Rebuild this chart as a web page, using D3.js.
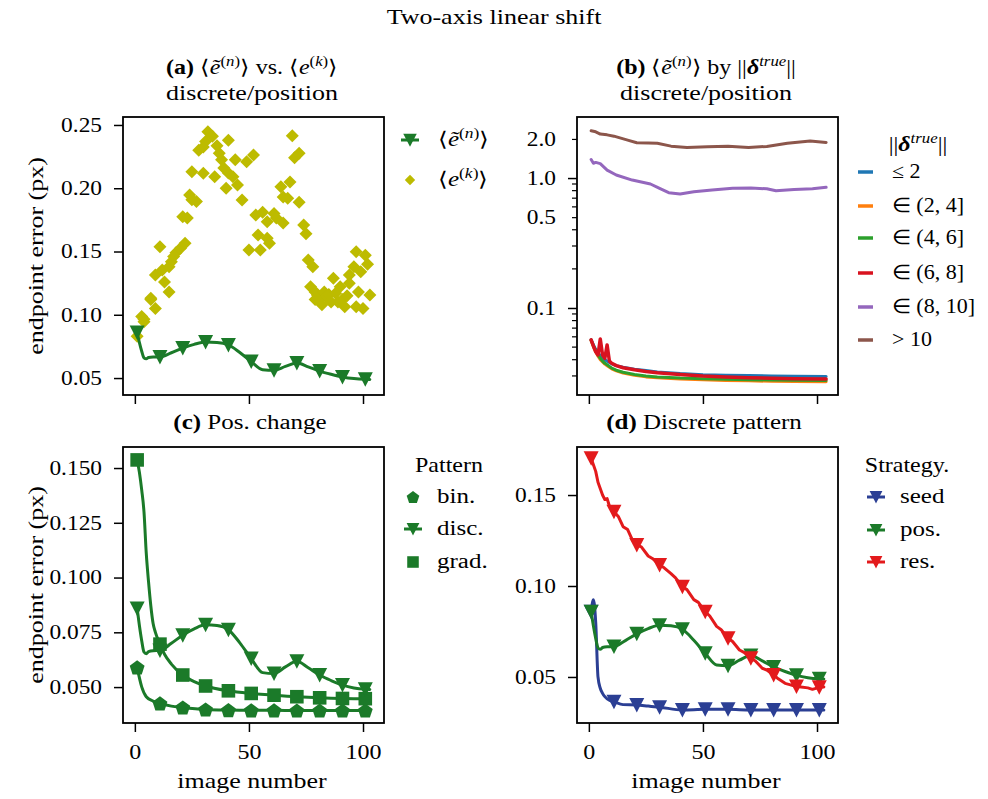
<!DOCTYPE html>
<html>
<head>
<meta charset="utf-8">
<title>Two-axis linear shift</title>
<script src="https://d3js.org/d3.v7.min.js"></script>
<style>
  body { margin: 0; background: #fff; }
  svg text { font-family: "Liberation Serif", serif; fill: #000; }
</style>
</head>
<body>
<div id="chart"></div>
<script>
// ---------- data ----------
const xTicks = [0, 50, 100];
const markerX = [1, 11, 21, 31, 41, 51, 61, 71, 81, 91, 101];

// (a) per-image error <e^(k)> (scatter)
const ekX = [1, 3, 4, 4, 7, 7, 9, 9, 11, 12, 13, 15, 15, 16, 17, 18, 20, 21, 22, 23, 24, 25, 25, 27, 28, 30,
  30, 31, 32, 34, 35, 36, 37, 38, 39, 40, 41, 41, 43, 44, 45, 47, 49, 50, 52, 53, 54, 55, 56, 58, 58, 59,
  61, 62, 64, 65, 65, 67, 68, 69, 70, 72, 72, 74, 75, 76, 77, 78, 79, 79, 80, 81, 82, 83, 84, 85, 86, 87,
  88, 89, 90, 91, 92, 93, 94, 94, 96, 97, 97, 98, 99, 100, 101, 102, 103];
const ekY = [0.083, 0.0987, 0.0965, 0.0945, 0.113, 0.112, 0.105, 0.1314, 0.1538, 0.1354, 0.126, 0.118, 0.138,
  0.142, 0.146, 0.149, 0.1525, 0.1775, 0.1565, 0.1765, 0.1947, 0.191, 0.213, 0.1895, 0.230, 0.2118,
  0.2325, 0.237, 0.2447, 0.241, 0.209, 0.2335, 0.2276, 0.2225, 0.216, 0.200, 0.238, 0.212, 0.209, 0.2225,
  0.2026, 0.1907, 0.221, 0.1512, 0.2263, 0.1789, 0.163, 0.1512, 0.181, 0.1736, 0.1605, 0.1565,
  0.180, 0.1765, 0.2012, 0.1725, 0.193, 0.192, 0.205, 0.2415, 0.224, 0.189, 0.2276, 0.171, 0.164, 0.1433,
  0.1222, 0.138, 0.118, 0.112, 0.1157, 0.112, 0.108, 0.118, 0.1143, 0.116, 0.110, 0.1288,
  0.117, 0.110, 0.1222, 0.112, 0.1064, 0.115, 0.1314, 0.125, 0.138, 0.1499, 0.1064, 0.118, 0.134, 0.105,
  0.147, 0.140, 0.1157];

// discrete pattern / position strategy mean error (panels a, c, d)
const discX = [1, 2, 3, 4, 5, 6, 8, 11, 16, 21, 26, 31, 36, 41, 46, 51, 56, 61, 66, 71, 76, 81, 86, 91, 96, 101, 103];
const discY = [0.0859, 0.078, 0.0712, 0.066, 0.0652, 0.0662, 0.0666, 0.0667, 0.0700, 0.0737, 0.0766, 0.0784,
  0.0781, 0.0762, 0.0702, 0.0630, 0.0566, 0.0562, 0.0592, 0.0618, 0.0588, 0.0555, 0.0530, 0.0509, 0.0496, 0.0490, 0.0489];

// (c) binary and gradient patterns
const binX = [1, 3, 5, 8, 11, 16, 21, 31, 41, 51, 61, 71, 81, 91, 101, 103];
const binY = [0.059, 0.0501, 0.0456, 0.0436, 0.0426, 0.0413, 0.0407, 0.0398, 0.0395, 0.0394, 0.0394, 0.0393,
  0.0393, 0.0393, 0.0393, 0.0393];
const gradX = [1, 2, 3, 4, 5, 6, 7, 8, 9, 11, 13, 16, 21, 26, 31, 41, 51, 61, 71, 81, 91, 101, 103];
const gradY = [0.1537, 0.148, 0.140, 0.130, 0.111, 0.098, 0.087, 0.079, 0.075, 0.0696, 0.065, 0.0605, 0.0555,
  0.0525, 0.0505, 0.0483, 0.0471, 0.0463, 0.0456, 0.0451, 0.0448, 0.0447, 0.0447];

// (d) seed and residual strategies
const seedX = [1, 2, 3, 4, 5, 6, 7, 9, 11, 15, 21, 26, 31, 41, 51, 61, 71, 81, 91, 101, 103];
const seedY = [0.0859, 0.0925, 0.080, 0.050, 0.0438, 0.041, 0.0392, 0.0372, 0.0364, 0.0348, 0.0346, 0.034,
  0.0334, 0.0319, 0.0322, 0.0322, 0.0319, 0.0319, 0.0319, 0.0319, 0.0319];
const resX = [1, 3, 4, 6, 7, 8, 9, 11, 13, 15, 17, 19, 21, 23, 26, 28, 31, 33, 36, 38, 41, 43, 46, 48, 51, 53,
  56, 58, 61, 63, 66, 68, 71, 73, 76, 78, 81, 83, 86, 88, 91, 93, 96, 98, 101, 103];
const resY = [0.1702, 0.163, 0.157, 0.150, 0.1475, 0.148, 0.144, 0.1408, 0.138, 0.1326, 0.131, 0.1255, 0.1225,
  0.1215, 0.1165, 0.1150, 0.1115, 0.1100, 0.1068, 0.1045, 0.0996, 0.0980, 0.0925, 0.0910, 0.0859, 0.0835,
  0.0778, 0.0760, 0.0713, 0.0695, 0.0648, 0.0635, 0.0603, 0.0588, 0.0548, 0.0538, 0.0511, 0.0490, 0.0465,
  0.0458, 0.0447, 0.0445, 0.0440, 0.0432, 0.0443, 0.0445];

// (b) error by true displacement magnitude (log scale)
const deltaLabels = ["≤ 2", "∈ (2, 4]", "∈ (4, 6]", "∈ (6, 8]", "∈ (8, 10]", "> 10"];
const lowX = [1, 2, 3, 4, 5, 6, 7, 8, 9, 10, 12, 15, 20, 25, 30, 40, 50, 60, 70, 80, 90, 104];
const bBlue = [0.0568, 0.052, 0.048, 0.045, 0.043, 0.0415, 0.040, 0.039, 0.038, 0.0372, 0.036, 0.035, 0.0338,
  0.033, 0.0322, 0.0313, 0.0307, 0.0304, 0.0302, 0.030, 0.0298, 0.0297];
const bOrange = [0.056, 0.050, 0.046, 0.0425, 0.040, 0.0385, 0.037, 0.036, 0.035, 0.034, 0.0328, 0.0316, 0.0303,
  0.0295, 0.029, 0.0284, 0.028, 0.0277, 0.0275, 0.0273, 0.0272, 0.0271];
const bGreen = [0.0565, 0.051, 0.047, 0.0435, 0.041, 0.039, 0.0375, 0.0365, 0.0355, 0.0345, 0.0332, 0.032,
  0.0308, 0.030, 0.0295, 0.0289, 0.0286, 0.0283, 0.0281, 0.0279, 0.0278, 0.0277];
const bRed = [0.0568, 0.051, 0.046, 0.0435, 0.0577, 0.0435, 0.041, 0.052, 0.039, 0.0376, 0.036, 0.0347, 0.0335,
  0.0325, 0.0318, 0.0308, 0.030, 0.0295, 0.0291, 0.0288, 0.0286, 0.0284];
const purpleX = [1, 2, 3, 5, 8, 12, 19, 27, 31, 35, 40, 46, 54, 63, 71, 78, 82, 90, 98, 104];
const bPurple = [1.39, 1.30, 1.32, 1.29, 1.15, 1.055, 0.965, 0.90, 0.833, 0.771, 0.753, 0.785, 0.809, 0.833,
  0.84, 0.826, 0.798, 0.815, 0.826, 0.848];
const brownX = [1, 3, 5, 8, 11, 17, 21, 26, 30, 36, 43, 52, 61, 70, 78, 87, 97, 104];
const bBrown = [2.31, 2.27, 2.18, 2.15, 2.10, 1.96, 1.87, 1.86, 1.85, 1.76, 1.72, 1.74, 1.76, 1.72, 1.75, 1.85,
  1.93, 1.88];

// ---------- drawing ----------
const W = 988, H = 799, FS = 20;
const green = "#1b7a29", yellow = "#bdbb00", blue = "#2b3f94", red = "#e31a1c";
const tab = ["#1f77b4", "#ff7f0e", "#2ca02c", "#d8121f", "#9467bd", "#8c564b"];

const svg = d3.select("#chart").append("svg")
  .attr("width", W).attr("height", H);

const colL = [123, 384], colR = [577, 838];
const rowT = [117, 395], rowB = [447, 723];

function xScale(col) {
  return d3.scaleLinear().domain([-5.2, 109.2]).range(col);
}

// the reference typeface (Computer Modern) runs wider than Times: stretch text horizontally about its anchor
function stretch(sel, sx) {
  sel.each(function () {
    const ax = +this.getAttribute("x") || 0, ay = +this.getAttribute("y") || 0;
    const t = this.getAttribute("transform") || "";
    this.setAttribute("transform", `${t} translate(${ax},${ay}) scale(${sx},1) translate(${-ax},${-ay})`);
  });
  return sel;
}

// marker shapes
const tri = "M-7.5,-7L7.5,-7L0,7.5Z";
const square = "M-6.8,-6.8H6.8V6.8H-6.8Z";
const diamond = "M0,-6.5L6.5,0L0,6.5L-6.5,0Z";
const pentagon = "M" + d3.range(5).map(k => {
  const a = -Math.PI / 2 + k * 2 * Math.PI / 5;
  return [7.8 * Math.cos(a), 7.8 * Math.sin(a) + 0.8].map(v => v.toFixed(2)).join(",");
}).join("L") + "Z";

// text with superscripts / italics
function mathText(sel, parts, size) {
  let off = 0;
  parts.forEach(p => {
    const target = p.sup ? -0.42 * size : 0;
    const ts = sel.append("tspan").text(p.t).attr("dy", target - off);
    off = target;
    if (p.sup) ts.attr("font-size", size * 0.7);
    if (p.it) ts.attr("font-style", "italic");
    if (p.b) ts.attr("font-weight", "bold");
  });
  return sel;
}

const eTilde = [{ t: "⟨" }, { t: "\u1EBD", it: true }, { t: "(", sup: true }, { t: "n", sup: true, it: true },
  { t: ")", sup: true }, { t: "⟩" }];
const eK = [{ t: "⟨" }, { t: "e", it: true }, { t: "(", sup: true }, { t: "k", sup: true, it: true },
  { t: ")", sup: true }, { t: "⟩" }];
const deltaTrue = [{ t: "||" }, { t: "δ", it: true, b: true }, { t: "true", sup: true, it: true }, { t: "||" }];

function label(x, y, anchor) {
  return svg.append("text").attr("x", x).attr("y", y).attr("text-anchor", anchor || "middle")
    .attr("font-size", FS);
}

function drawFrame(col, row, y, yTicks, yFmt, xLabels) {
  const x = xScale(col);
  const gx = svg.append("g")
    .attr("transform", `translate(0,${row[1]})`)
    .call(d3.axisBottom(x).tickValues(xTicks).tickSize(9).tickPadding(13)
      .tickFormat(xLabels ? d3.format("d") : () => ""));
  gx.attr("font-size", FS);
  gx.select(".domain").remove();
  gx.selectAll("line").attr("stroke-width", 1.5);

  const gy = svg.append("g")
    .attr("transform", `translate(${col[0]},0)`)
    .call(d3.axisLeft(y).tickValues(yTicks).tickSize(9).tickPadding(12).tickFormat(yFmt));
  gy.attr("font-size", FS);
  gy.select(".domain").remove();
  gy.selectAll("line").attr("stroke-width", 1.5);

  stretch(gx.selectAll("text"), 1.2);
  stretch(gy.selectAll("text"), 1.17);

  svg.append("rect")
    .attr("x", col[0]).attr("y", row[0])
    .attr("width", col[1] - col[0]).attr("height", row[1] - row[0])
    .attr("fill", "none").attr("stroke", "#000").attr("stroke-width", 1.8);
  return { x, gy };
}

function drawLine(x, y, xs, ys, color, curve, width) {
  svg.append("path")
    .datum(xs.map((v, i) => [v, ys[i]]))
    .attr("fill", "none").attr("stroke", color)
    .attr("stroke-width", width || 3)
    .attr("stroke-linejoin", "round").attr("stroke-linecap", "round")
    .attr("d", d3.line().x(d => x(d[0])).y(d => y(d[1])).curve(curve || d3.curveMonotoneX));
}

function drawMarkers(x, y, xs, ys, color, shape) {
  const pts = xs.map((v, i) => [v, ys[i]]).filter(d => markerX.includes(d[0]));
  svg.append("g").selectAll("path").data(pts).join("path")
    .attr("d", shape).attr("fill", color)
    .attr("transform", d => `translate(${x(d[0])},${y(d[1])})`);
}

function legendItem(cx, cy, tx, text, color, shape, withLine, scale) {
  if (withLine) {
    svg.append("line").attr("x1", cx - 9).attr("x2", cx + 9).attr("y1", cy).attr("y2", cy)
      .attr("stroke", color).attr("stroke-width", 3);
  }
  if (shape) {
    svg.append("path").attr("d", shape).attr("fill", color)
      .attr("transform", `translate(${cx},${cy}) scale(${scale || 0.85})`);
  }
  const t = label(tx, cy + 6, "start");
  if (typeof text === "string") t.text(text); else mathText(t, text, FS);
  stretch(t, 1.25);
}

// title
stretch(label(494, 24).text("Two-axis linear shift"), 1.3);

// ---- (a) ----
const yA = d3.scaleLinear().domain([0.0366, 0.2563]).range([rowT[1], rowT[0]]);
const xA = drawFrame(colL, rowT, yA, [0.05, 0.10, 0.15, 0.20, 0.25], d3.format(".2f"), false).x;
svg.append("g").selectAll("path").data(ekX.map((v, i) => [v, ekY[i]])).join("path")
  .attr("d", diamond).attr("fill", yellow)
  .attr("transform", d => `translate(${xA(d[0])},${yA(d[1])})`);
drawLine(xA, yA, discX, discY, green);
drawMarkers(xA, yA, discX, discY, green, tri);
stretch(mathText(label(252, 74), [{ t: "(a)", b: true }, { t: " " }].concat(eTilde, [{ t: " vs. " }], eK), FS), 1.2);
stretch(label(252, 100).text("discrete/position"), 1.3);
legendItem(410, 140, 438, eTilde, green, tri, true, 0.9);
legendItem(410, 180, 438, eK, yellow, diamond, false, 0.8);
stretch(svg.append("text").attr("transform", "translate(43,256) rotate(-90)").attr("text-anchor", "middle")
  .attr("font-size", FS).text("endpoint error (px)"), 1.3);

// ---- (b) ----
const yB = d3.scaleLog().domain([0.0214, 2.95]).range([rowT[1], rowT[0]]);
const frB = drawFrame(colR, rowT, yB, [0.1, 0.5, 1.0, 2.0], d3.format(".1f"), false);
const xB = frB.x;
// minor ticks
const minorB = [0.03, 0.04, 0.05, 0.06, 0.07, 0.08, 0.09, 0.2, 0.3, 0.4, 0.6, 0.7, 0.8, 0.9];
svg.append("g").selectAll("line").data(minorB).join("line")
  .attr("x1", colR[0] - 5).attr("x2", colR[0])
  .attr("y1", d => yB(d)).attr("y2", d => yB(d))
  .attr("stroke", "#000").attr("stroke-width", 1.2);
// labeled minor ticks (0.5, 2.0) are short too
frB.gy.selectAll(".tick").filter(d => d === 0.5 || d === 2.0).select("line")
  .attr("x2", -5).attr("stroke-width", 1.2);
drawLine(xB, yB, lowX, bBlue, tab[0], d3.curveLinear);
drawLine(xB, yB, lowX, bOrange, tab[1], d3.curveLinear);
drawLine(xB, yB, lowX, bGreen, tab[2], d3.curveLinear);
drawLine(xB, yB, lowX, bRed, tab[3], d3.curveLinear, 3.5);
drawLine(xB, yB, purpleX, bPurple, tab[4], d3.curveLinear);
drawLine(xB, yB, brownX, bBrown, tab[5], d3.curveLinear);
stretch(mathText(label(706, 74), [{ t: "(b)", b: true }, { t: " " }].concat(eTilde, [{ t: " by " }], deltaTrue), FS), 1.2);
stretch(label(706, 100).text("discrete/position"), 1.3);
stretch(mathText(label(918, 151), deltaTrue, FS), 1.2);
const legBY = [172, 206, 238, 273, 307, 340];
deltaLabels.forEach((lab, i) => {
  svg.append("line").attr("x1", 858).attr("x2", 873).attr("y1", legBY[i]).attr("y2", legBY[i])
    .attr("stroke", tab[i]).attr("stroke-width", 3.5);
  stretch(label(892, legBY[i] + 6, "start").text(lab), 1.1);
});

// ---- (c) ----
const yC = d3.scaleLinear().domain([0.0336, 0.1596]).range([rowB[1], rowB[0]]);
const xC = drawFrame(colL, rowB, yC, [0.05, 0.075, 0.10, 0.125, 0.15], d3.format(".3f"), true).x;
drawLine(xC, yC, binX, binY, green);
drawLine(xC, yC, gradX, gradY, green);
drawLine(xC, yC, discX, discY, green);
drawMarkers(xC, yC, binX, binY, green, pentagon);
drawMarkers(xC, yC, gradX, gradY, green, square);
drawMarkers(xC, yC, discX, discY, green, tri);
stretch(mathText(label(250, 429), [{ t: "(c)", b: true }, { t: " Pos. change" }], FS), 1.25);
stretch(label(449, 472).text("Pattern"), 1.2);
legendItem(413, 497, 437, "bin.", green, pentagon, false, 0.85);
legendItem(413, 529, 437, "disc.", green, tri, true, 0.85);
legendItem(413, 562, 437, "grad.", green, square, false, 0.85);
stretch(svg.append("text").attr("transform", "translate(43,585) rotate(-90)").attr("text-anchor", "middle")
  .attr("font-size", FS).text("endpoint error (px)"), 1.3);
stretch(label(252, 788).text("image number"), 1.3);

// ---- (d) ----
const yD = d3.scaleLinear().domain([0.0247, 0.1764]).range([rowB[1], rowB[0]]);
const xD = drawFrame(colR, rowB, yD, [0.05, 0.10, 0.15], d3.format(".2f"), true).x;
drawLine(xD, yD, seedX, seedY, blue);
drawLine(xD, yD, discX, discY, green);
drawLine(xD, yD, resX, resY, red, d3.curveLinear);
drawMarkers(xD, yD, seedX, seedY, blue, tri);
drawMarkers(xD, yD, discX, discY, green, tri);
drawMarkers(xD, yD, resX, resY, red, tri);
stretch(mathText(label(704, 429), [{ t: "(d)", b: true }, { t: " Discrete pattern" }], FS), 1.25);
stretch(label(907, 472).text("Strategy."), 1.2);
legendItem(876, 497, 900, "seed", blue, tri, true, 0.85);
legendItem(876, 530, 900, "pos.", green, tri, true, 0.85);
legendItem(876, 562, 900, "res.", red, tri, true, 0.85);
stretch(label(706, 788).text("image number"), 1.3);
</script>
</body>
</html>
